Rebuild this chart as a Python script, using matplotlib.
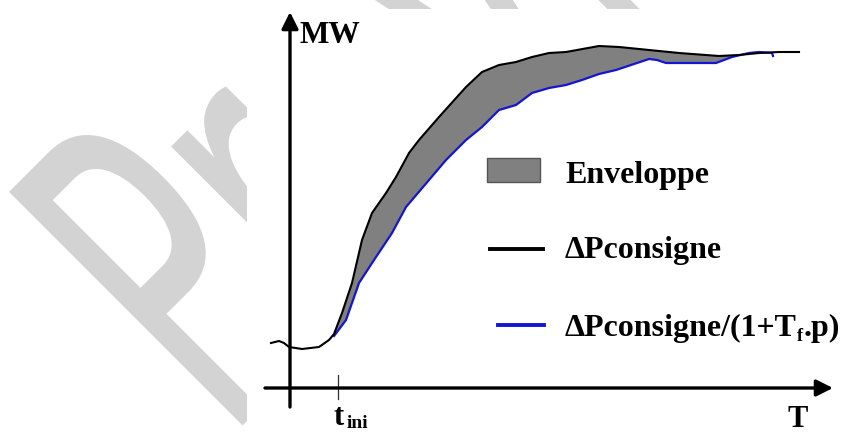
import numpy as np
import matplotlib.pyplot as plt
from matplotlib.patches import PathPatch, Rectangle
from matplotlib.textpath import TextPath
from matplotlib.font_manager import FontProperties
from matplotlib.transforms import Affine2D

# Delta P consigne (courbe noire)
t_consigne = [-1.9, -1.1, -0.6, -0.1, 1.2, 2.9, 3.9, 4.4, 5.2, 6.2, 7.2, 8.2, 9.6, 10.6,
              11.9, 12.9, 14.9, 17.6, 19.2, 20.9, 22.6, 24.2, 25.9, 27.6, 30.9, 32.9,
              35.9, 38.9, 42.9, 44.9, 46.9, 48.9, 50.9]
p_consigne = [4.5, 4.7, 4.5, 4.1, 3.9, 4.1, 4.8, 5.4, 7.5, 10.5, 14.8, 17.5, 19.5, 21.1,
              23.5, 24.8, 27.1, 30.1, 31.6, 32.3, 32.6, 33.1, 33.5, 33.6, 34.2, 34.1,
              33.8, 33.5, 33.2, 33.3, 33.5, 33.6, 33.6]

# Delta P consigne / (1 + Tf.p) (courbe bleue)
t_filtre = [4.4, 5.6, 6.9, 8.4, 10.2, 11.6, 13.9, 15.6, 17.6, 19.2, 20.9, 22.6, 24.2,
            25.9, 27.6, 29.2, 30.9, 32.6, 34.4, 35.9, 36.7, 37.6, 39.9, 42.6, 44.2,
            45.9, 46.9, 48.2, 48.3]
p_filtre = [5.2, 6.8, 10.5, 12.8, 15.5, 18.1, 20.8, 22.8, 24.8, 26.1, 27.8, 28.3, 29.5,
            30.0, 30.3, 30.8, 31.4, 31.8, 32.4, 32.9, 32.8, 32.5, 32.5, 32.5, 33.1,
            33.5, 33.6, 33.5, 33.2]

t_ini = 4.8
t_env = (4.4, 44.9)

labels = ["Enveloppe", "\u0394Pconsigne", "\u0394Pconsigne/(1+T", "f", ".p)"]

W, H = 849, 434
fig = plt.figure(figsize=(W / 100, H / 100), dpi=100)

# filigrane "Preview" en fond
tp = TextPath((0, 0), "Preview", size=453, prop=FontProperties(family="DejaVu Sans"))
wm = PathPatch(tp, facecolor="#d3d3d3", edgecolor="none", zorder=-5,
               transform=Affine2D().scale(0.56, 1.0).rotate_deg(45).translate(225, -9))
fig.add_artist(wm)

ax = fig.add_axes([247 / W, 0, (W - 247) / W, (H - 9) / H])
ax.set_facecolor("white")
ax.set_xlim(-4.3, 55.9)
ax.set_ylim(-4.6, 37.9)
for s in ax.spines.values():
    s.set_visible(False)
ax.set_xticks([])
ax.set_yticks([])

tc = np.array(t_consigne)
pc = np.array(p_consigne)
tf = np.array(t_filtre)
pf = np.array(p_filtre)

# enveloppe entre les deux courbes
m1 = (tc >= t_env[0]) & (tc <= t_env[1])
m2 = (tf >= t_env[0]) & (tf <= 44.5)
ax.fill(np.concatenate([tc[m1], tf[m2][::-1]]), np.concatenate([pc[m1], pf[m2][::-1]]),
        color="#808080", lw=0, zorder=1)
ax.plot(tc, pc, color="black", lw=1.5, zorder=3)
ax.plot(tf, pf, color="#1414d4", lw=1.6, zorder=2)

# axes fléchés
arrow = dict(arrowstyle="-|>,head_length=0.5,head_width=0.25", lw=2.4, color="black",
             mutation_scale=20, shrinkA=0, shrinkB=0)
ax.annotate("", xy=(0, 37.6), xytext=(0, -1.9), arrowprops=arrow)
ax.annotate("", xy=(54.3, 0), xytext=(-2.5, 0), arrowprops=arrow)
ax.plot([t_ini, t_ini], [1.3, -1.1], color="#333333", lw=0.9)

font = dict(family="Liberation Serif", weight="bold", color="black")
ax.text(1.0, 34.5, "MW", fontsize=22.5, va="baseline", **font)
ax.text(50.8, -3.9, "T", fontsize=22, ha="center", va="baseline", **font)
ax.text(4.3, -3.7, "t", fontsize=22, va="baseline", **font)
ax.text(5.7, -4.0, "ini", fontsize=14, va="baseline", **font)

# légende
ax.add_patch(Rectangle((19.7, 20.6), 5.3, 2.4, facecolor="#808080", edgecolor="#555555", lw=1))
ax.plot([20.0, 25.3], [13.9, 13.9], color="black", lw=2.8)
ax.plot([20.8, 25.4], [6.3, 6.3], color="#1414d4", lw=2.8)
ax.text(27.5, 20.5, labels[0], fontsize=23, va="baseline", **font)
ax.text(27.5, 13.0, labels[1], fontsize=23, va="baseline", **font)
t1 = ax.text(27.5, 5.2, labels[2], fontsize=23, va="baseline", **font)
t2 = ax.annotate(labels[3], xy=(1, 0), xycoords=t1, xytext=(0.3, -1.5), textcoords="offset points",
                 fontsize=13, va="bottom", **font)
ax.annotate(labels[4], xy=(1, 0), xycoords=(t2, t1), xytext=(0.3, 0), textcoords="offset points",
            fontsize=23, va="bottom", **font)

fig.savefig("out.png", dpi=100)
